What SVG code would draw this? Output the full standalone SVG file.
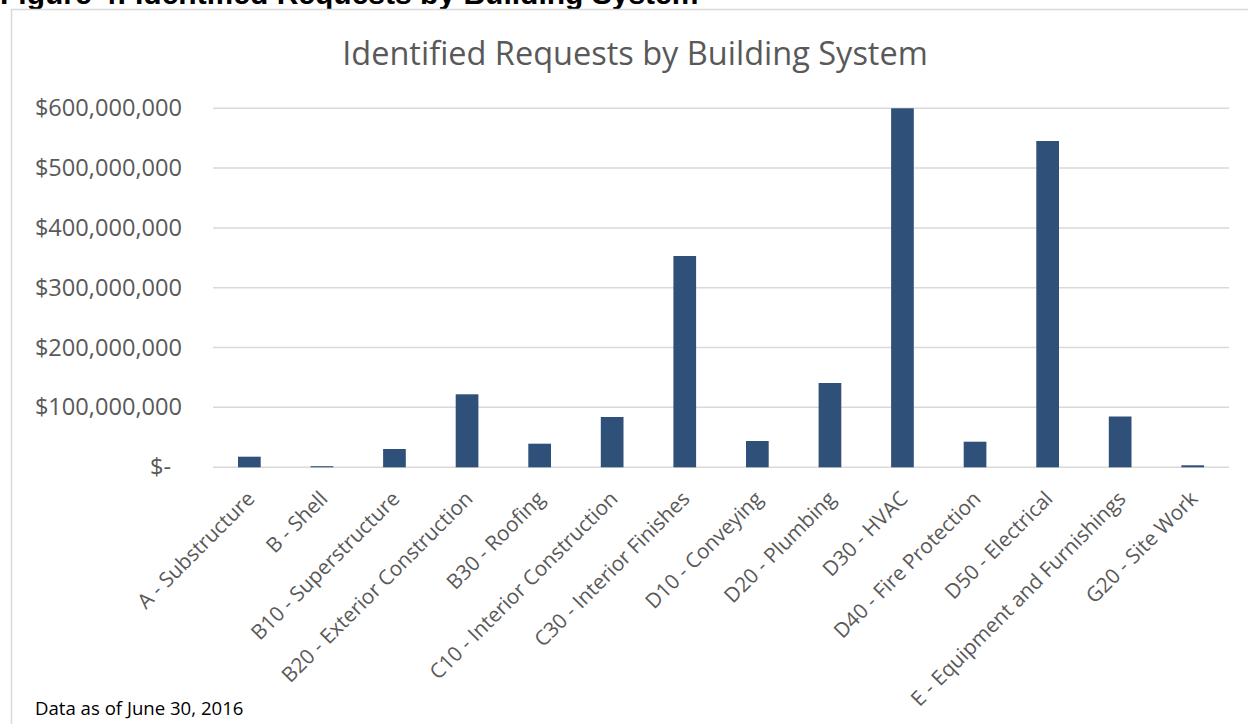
<svg xmlns="http://www.w3.org/2000/svg" width="1248" height="724" viewBox="0 0 1248 724">
<style>
.grid{stroke:#D9D9D9;stroke-width:1.5;fill:none}
.bar{fill:#2F5179}
.ylab{font-family:"Open Sans",sans-serif;font-size:23.6px;fill:#595959;text-anchor:end}
.xlab{font-family:"Open Sans",sans-serif;font-size:20.7px;fill:#595959;text-anchor:end}
.title{font-family:"Open Sans",sans-serif;font-size:32.5px;fill:#595959;text-anchor:middle}
.note{font-family:"Open Sans",sans-serif;font-size:18.6px;fill:#000}
.fig{font-family:"Liberation Sans",Arial,sans-serif;font-size:30px;font-weight:bold;fill:#000}
</style>
<rect width="1248" height="724" fill="#fff"/>
<text class="fig" x="0" y="4">Figure 4: Identified Requests by Building System</text>
<path d="M11.5 740 V9.5 H1260" stroke="#D9D9D9" stroke-width="1.5" fill="none"/>
<text class="title" x="635" y="65">Identified Requests by Building System</text>
<g id="grid">
<line class="grid" x1="213" y1="108.3" x2="1229" y2="108.3"/>
<line class="grid" x1="213" y1="168.1" x2="1229" y2="168.1"/>
<line class="grid" x1="213" y1="227.9" x2="1229" y2="227.9"/>
<line class="grid" x1="213" y1="287.7" x2="1229" y2="287.7"/>
<line class="grid" x1="213" y1="347.5" x2="1229" y2="347.5"/>
<line class="grid" x1="213" y1="407.3" x2="1229" y2="407.3"/>
<line class="grid" x1="213" y1="467.3" x2="1229" y2="467.3"/>
</g>
<g id="yaxis">
<text class="ylab" x="182" y="116">$600,000,000</text>
<text class="ylab" x="182" y="176">$500,000,000</text>
<text class="ylab" x="182" y="236">$400,000,000</text>
<text class="ylab" x="182" y="295.5">$300,000,000</text>
<text class="ylab" x="182" y="355.5">$200,000,000</text>
<text class="ylab" x="182" y="415">$100,000,000</text>
<text class="ylab" x="171" y="475">$-</text>
</g>
<g id="bars">
<rect class="bar" x="238" y="456.7" width="22.7" height="10.6"/>
<rect class="bar" x="310.6" y="466.2" width="22.7" height="1.1"/>
<rect class="bar" x="383.1" y="449" width="22.7" height="18.3"/>
<rect class="bar" x="455.7" y="394.3" width="22.7" height="73"/>
<rect class="bar" x="528.3" y="443.7" width="22.7" height="23.6"/>
<rect class="bar" x="600.8" y="417" width="22.7" height="50.3"/>
<rect class="bar" x="673.4" y="256" width="22.7" height="211.3"/>
<rect class="bar" x="746" y="441" width="22.7" height="26.3"/>
<rect class="bar" x="818.6" y="383" width="22.7" height="84.3"/>
<rect class="bar" x="891.1" y="108.3" width="22.7" height="359"/>
<rect class="bar" x="963.7" y="441.7" width="22.7" height="25.6"/>
<rect class="bar" x="1036.3" y="141" width="22.7" height="326.3"/>
<rect class="bar" x="1108.8" y="416.5" width="22.7" height="50.8"/>
<rect class="bar" x="1181.4" y="465.3" width="22.7" height="2"/>
</g>
<g id="xaxis">
<text class="xlab" transform="translate(256,500) rotate(-45)">A - Substructure</text>
<text class="xlab" transform="translate(329,500) rotate(-45)">B - Shell</text>
<text class="xlab" transform="translate(401,500) rotate(-45)">B10 - Superstructure</text>
<text class="xlab" transform="translate(474,500) rotate(-45)">B20 - Exterior Construction</text>
<text class="xlab" transform="translate(546,500) rotate(-45)">B30 - Roofing</text>
<text class="xlab" transform="translate(619,500) rotate(-45)">C10 - Interior Construction</text>
<text class="xlab" transform="translate(691,500) rotate(-45)">C30 - Interior Finishes</text>
<text class="xlab" transform="translate(764,500) rotate(-45)">D10 - Conveying</text>
<text class="xlab" transform="translate(837,500) rotate(-45)">D20 - Plumbing</text>
<text class="xlab" transform="translate(909,500) rotate(-45)">D30 - HVAC</text>
<text class="xlab" transform="translate(982,500) rotate(-45)">D40 - Fire Protection</text>
<text class="xlab" transform="translate(1054,500) rotate(-45)">D50 - Electrical</text>
<text class="xlab" transform="translate(1127,500) rotate(-45)">E - Equipment and Furnishings</text>
<text class="xlab" transform="translate(1199,500) rotate(-45)">G20 - Site Work</text>
</g>
<text class="note" x="35" y="715">Data as of June 30, 2016</text>
</svg>
